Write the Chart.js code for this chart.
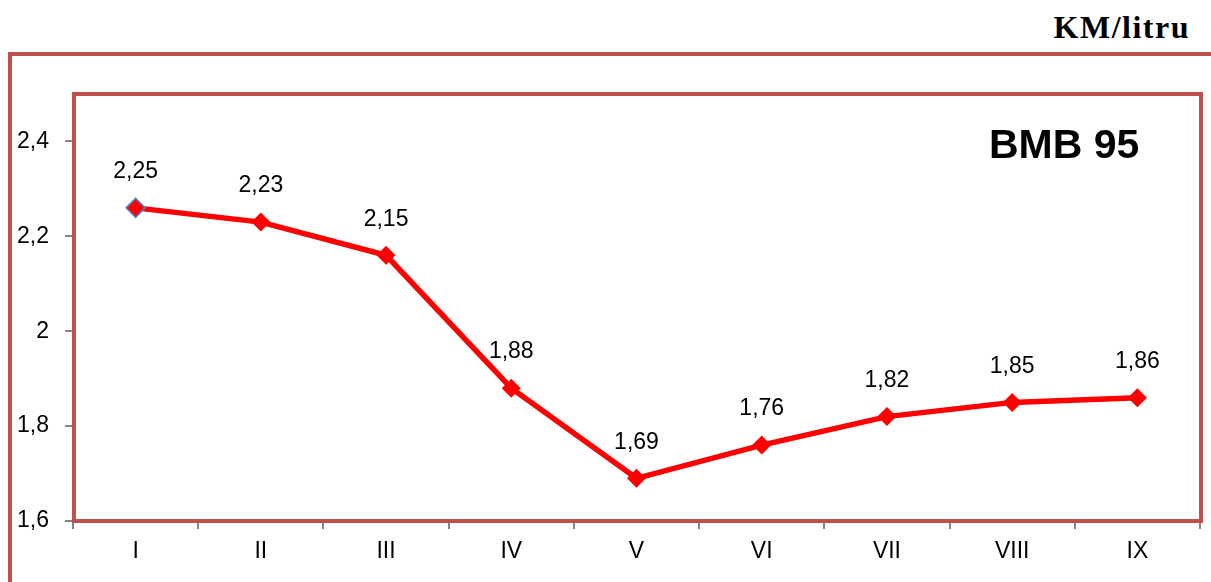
<!DOCTYPE html>
<html><head><meta charset="utf-8">
<script src="https://cdn.jsdelivr.net/npm/chart.js@4"></script>
<style>
html,body{margin:0;padding:0;background:#fff;}
#wrap{position:relative;width:1211px;height:582px;overflow:hidden;}
#frame{position:absolute;left:8px;top:52px;width:1210px;height:600px;border-left:4px solid #C0504D;border-top:4px solid #C0504D;}
#unit{position:absolute;right:21px;top:9px;font:bold 32px "Liberation Serif",serif;letter-spacing:1.5px;color:#000;}
#title{position:absolute;left:989px;top:121px;font:bold 41px "Liberation Sans",Arial,sans-serif;color:#000;}
canvas{position:absolute;left:0;top:0;}
</style></head>
<body><div id="wrap">
<div id="frame"></div>
<div id="unit">KM/litru</div>
<canvas id="c" width="1211" height="582"></canvas>
<div id="title">BMB 95</div>
</div>
<script>
const categories = ['I','II','III','IV','V','VI','VII','VIII','IX'];
const values = [2.26, 2.23, 2.16, 1.88, 1.69, 1.76, 1.82, 1.85, 1.86];
const valueLabels = ['2,25','2,23','2,15','1,88','1,69','1,76','1,82','1,85','1,86'];
const yTicks = [1.6, 1.8, 2.0, 2.2, 2.4];

const boxPlugin = {
  id:'box',
  beforeDatasetsDraw(chart){
    const {ctx, chartArea:a} = chart;
    ctx.save();
    ctx.strokeStyle = '#C0504D';
    ctx.lineWidth = 4;
    ctx.strokeRect(a.left+1, a.top, a.right-a.left, a.bottom-a.top);
    ctx.restore();
  },
  afterDatasetsDraw(chart){
    const {ctx} = chart;
    const meta = chart.getDatasetMeta(0);
    ctx.save();
    ctx.fillStyle = '#000';
    ctx.font = '23px "Liberation Sans", Arial, sans-serif';
    ctx.textAlign = 'center';
    ctx.textBaseline = 'middle';
    meta.data.forEach((p,i)=>{ ctx.fillText(valueLabels[i], p.x, p.y-36); });
    ctx.restore();
  }
};

new Chart(document.getElementById('c'), {
  type:'line',
  data:{labels:categories, datasets:[{
    data:values,
    borderColor:'#FF0000',
    borderWidth:5.5,
    tension:0,
    pointStyle:'rectRot',
    pointRadius:9.5,
    pointHoverRadius:9.5,
    pointBackgroundColor:'#FF0000',
    pointBorderColor: values.map((v,i)=> i===0 ? '#4F81BD' : '#FF0000'),
    pointBorderWidth: values.map((v,i)=> i===0 ? 1.5 : 0),
  }]},
  options:{
    responsive:false, animation:false,
    layout:{padding:{top:94,right:10,left:0,bottom:0}},
    plugins:{legend:{display:false}, tooltip:{enabled:false}},
    scales:{
      x:{
        offset:true,
        grid:{display:true, offset:true, drawOnChartArea:false, drawTicks:true, tickLength:8, color:'#868686', lineWidth:2},
        border:{display:true, color:'#868686', width:2},
        ticks:{color:'#000', font:{family:'"Liberation Sans", Arial, sans-serif', size:23}, padding:9, maxRotation:0},
        afterFit(s){ s.height = 61; }
      },
      y:{
        min:1.6, max:2.5,
        afterBuildTicks(s){ s.ticks = yTicks.map(v=>({value:v})); },
        grid:{display:true, drawOnChartArea:false, drawTicks:true, tickLength:8, color:'#868686', lineWidth:2},
        border:{display:true, color:'#868686', width:2},
        ticks:{color:'#000', font:{family:'"Liberation Sans", Arial, sans-serif', size:23}, padding:16,
          callback:(v)=> (Math.round(v*10)/10).toString().replace('.',',')},
        afterFit(s){ s.width = 73; }
      }
    }
  },
  plugins:[boxPlugin]
});
</script>
</body></html>
